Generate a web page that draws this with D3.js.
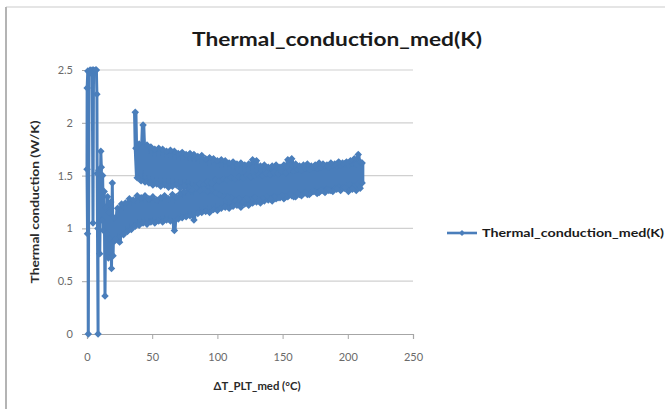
<!DOCTYPE html>
<html>
<head>
<meta charset="utf-8">
<script src="https://cdn.jsdelivr.net/npm/d3@7"></script>
<style>
  body { margin: 0; background: #fff; }
  svg { display: block; font-family: Lato, "Open Sans", sans-serif; }
</style>
</head>
<body>
<div id="chart"></div>
<script>
// values: [ΔT_PLT_med (°C), thermal conduction (W/K)]
const startup = [
  [0.4,0.95],[0.0,1.56],[0.1,2.33],[0.6,2.49],[1.0,0.0],[1.6,2.48],[2.4,2.5],[3.2,2.47],
  [4.0,2.5],[4.6,1.05],[5.0,2.5],[5.8,2.49],[6.6,2.5],[7.2,2.5],[7.6,2.27],[7.8,1.52],
  [8.5,0.0],[8.4,1.0],[9.0,1.55],[9.8,0.76],[10.6,1.73],[11.0,1.58],[11.4,1.08],[12.0,1.5],
  [12.6,0.98],[13.2,1.35],[13.8,0.36],[14.4,1.2],[15.0,0.95],[15.8,1.3],[16.4,0.72],[17.0,1.15],
  [17.6,0.9],[18.2,1.25],[18.8,0.62],[19.4,1.43],[20.0,0.74],[20.6,1.1],[21.2,0.88]
];

const risingBranch = [
  [22.0,0.90],[23.5,1.19],[25.0,0.87],[26.5,1.23],[28.0,0.94],[29.5,1.24],[31.0,0.97],[32.5,1.28],
  [34.0,0.99],[35.5,1.27],[37.0,1.02],[38.5,1.31],[40.0,1.03],[41.5,1.29],[43.0,1.05],[44.5,1.31],
  [46.0,1.04],[47.5,1.28],[49.0,1.06],[50.5,1.30],[52.0,1.05],[53.5,1.27],[55.0,1.07],[56.5,1.29],
  [58.0,1.06],[59.5,1.31],[61.0,1.08],[62.5,1.28],[64.0,1.07],[65.5,1.32],[67.0,0.98],[68.5,1.30],
  [70.0,1.09],[71.5,1.33],[73.0,1.10],[74.5,1.35],[76.0,1.11],[77.5,1.38],[79.0,1.12],[80.5,1.36],
  [82.0,1.08],[83.5,1.40],[85.0,1.14],[86.5,1.42],[88.0,1.15],[89.5,1.41],[91.0,1.16],[92.5,1.44],
  [94.0,1.15],[95.5,1.43],[97.0,1.18],[98.5,1.46],[100.0,1.17],[101.5,1.45],[103.0,1.19],[104.5,1.47],
  [106.0,1.20],[107.5,1.46],[109.0,1.19],[110.5,1.48],[112.0,1.21],[113.5,1.47],[115.0,1.22],[116.5,1.49],
  [118.0,1.20],[119.5,1.48],[121.0,1.23],[122.5,1.50],[124.0,1.22],[125.5,1.49],[127.0,1.24],[128.5,1.50],
  [130.0,1.25],[131.5,1.51],[133.0,1.24],[134.5,1.50],[136.0,1.26],[137.5,1.52],[139.0,1.27],[140.5,1.51],
  [142.0,1.26],[143.5,1.53],[145.0,1.28],[146.5,1.52],[148.0,1.29],[149.5,1.54],[151.0,1.28],[152.5,1.53],
  [154.0,1.30],[155.5,1.55],[157.0,1.31],[158.5,1.54],[160.0,1.30],[161.5,1.56],[163.0,1.32],[164.5,1.55],
  [166.0,1.33],[167.5,1.57],[169.0,1.32],[170.5,1.56],[172.0,1.34],[173.5,1.58],[175.0,1.35],[176.5,1.57],
  [178.0,1.34],[179.5,1.58],[181.0,1.36],[182.5,1.59],[184.0,1.37],[185.5,1.58],[187.0,1.36],[188.5,1.60],
  [190.0,1.38],[191.5,1.59],[193.0,1.39],[194.5,1.60],[196.0,1.38],[197.5,1.61],[199.0,1.40],[200.5,1.60],
  [202.0,1.41],[203.5,1.62],[205.0,1.40],[206.5,1.61],[208.0,1.42],[209.5,1.63],[211.0,1.43]
];

const fallingBranch = [
  [211.0,1.62],[209.5,1.38],[208.0,1.70],[206.5,1.36],[205.0,1.66],[203.5,1.37],[202.0,1.64],[200.5,1.35],
  [199.0,1.63],[197.5,1.38],[196.0,1.62],[194.5,1.36],[193.0,1.63],[191.5,1.37],[190.0,1.61],[188.5,1.35],
  [187.0,1.62],[185.5,1.36],[184.0,1.60],[182.5,1.34],[181.0,1.61],[179.5,1.36],[178.0,1.62],[176.5,1.33],
  [175.0,1.60],[173.5,1.35],[172.0,1.59],[170.5,1.32],[169.0,1.61],[167.5,1.34],[166.0,1.60],[164.5,1.31],
  [163.0,1.59],[161.5,1.33],[160.0,1.61],[158.5,1.30],[157.0,1.66],[155.5,1.32],[154.0,1.65],[152.5,1.30],
  [151.0,1.60],[149.5,1.31],[148.0,1.58],[146.5,1.29],[145.0,1.60],[143.5,1.30],[142.0,1.59],[140.5,1.28],
  [139.0,1.58],[137.5,1.30],[136.0,1.60],[134.5,1.28],[133.0,1.59],[131.5,1.27],[130.0,1.64],[128.5,1.29],
  [127.0,1.65],[125.5,1.27],[124.0,1.61],[122.5,1.28],[121.0,1.60],[119.5,1.26],[118.0,1.62],[116.5,1.28],
  [115.0,1.61],[113.5,1.27],[112.0,1.63],[110.5,1.29],[109.0,1.62],[107.5,1.30],[106.0,1.64],[104.5,1.31],
  [103.0,1.65],[101.5,1.32],[100.0,1.64],[98.5,1.34],[97.0,1.66],[95.5,1.36],[94.0,1.67],[92.5,1.35],
  [91.0,1.66],[89.5,1.37],[88.0,1.69],[86.5,1.36],[85.0,1.68],[83.5,1.38],[82.0,1.70],[80.5,1.37],
  [79.0,1.71],[77.5,1.39],[76.0,1.70],[74.5,1.40],[73.0,1.72],[71.5,1.38],[70.0,1.71],[68.5,1.41],
  [67.0,1.73],[65.5,1.40],[64.0,1.74],[62.5,1.39],[61.0,1.73],[59.5,1.41],[58.0,1.75],[56.5,1.40],
  [55.0,1.76],[53.5,1.42],[52.0,1.75],[50.5,1.41],[49.0,1.77],[47.5,1.43],[46.0,1.79],[44.5,1.44],
  [43.0,1.98],[41.5,1.45],[40.0,1.80],[38.5,1.48],[37.5,1.76],[37.0,2.10]
];

const xTicks = [0, 50, 100, 150, 200, 250];
const yTicks = [0, 0.5, 1, 1.5, 2, 2.5];
const seriesName = "Thermal_conduction_med(K)";

const series = startup.concat(risingBranch, fallingBranch);

const width = 665, height = 409;
const blue = "#4a7ebb";

const svg = d3.select("#chart").append("svg")
    .attr("width", width)
    .attr("height", height);

// chart area frame
svg.append("line").attr("x1", 6).attr("x2", width).attr("y1", 7).attr("y2", 7)
    .attr("stroke", "#dcdcdc").attr("stroke-width", 1.5);
svg.append("line").attr("x1", 6).attr("x2", 6).attr("y1", 7).attr("y2", height)
    .attr("stroke", "#b4b4b4").attr("stroke-width", 2);

const x = d3.scaleLinear().domain([0, 250]).range([87, 413]);
const y = d3.scaleLinear().domain([0, 2.5]).range([334, 70]);

// gridlines
svg.append("g")
    .selectAll("line")
    .data(yTicks.filter(d => d > 0))
    .join("line")
    .attr("x1", x(0)).attr("x2", x(250))
    .attr("y1", d => y(d)).attr("y2", d => y(d))
    .attr("stroke", "#d0d0d0").attr("stroke-width", 1.2);

const xAxis = svg.append("g")
    .attr("transform", "translate(0," + y(0) + ")")
    .call(d3.axisBottom(x).tickValues(xTicks).tickSize(5).tickPadding(14).tickFormat(d3.format("d")));

const yAxis = svg.append("g")
    .attr("transform", "translate(" + x(0) + ",0)")
    .call(d3.axisLeft(y).tickValues(yTicks).tickSize(5).tickPadding(9).tickFormat(d => String(d)));

[xAxis, yAxis].forEach(function (g) {
    g.select(".domain").attr("stroke", "#a6a6a6").attr("stroke-width", 1.2);
    g.selectAll(".tick line").attr("stroke", "#a6a6a6");
    g.selectAll(".tick text")
        .attr("fill", "#6a6a6a")
        .style("font-size", "11px")
        .style("font-family", "Lato, sans-serif");
});

// series: line through every point, diamond markers on top
const line = d3.line()
    .x(d => x(d[0]))
    .y(d => y(d[1]));

// the dense back-and-forth part reads as a solid band in the original
svg.append("path")
    .datum(risingBranch.concat(fallingBranch))
    .attr("fill", "none")
    .attr("stroke", blue)
    .attr("stroke-width", 4.4)
    .attr("stroke-linejoin", "round")
    .attr("d", line);

svg.append("path")
    .datum(series)
    .attr("fill", "none")
    .attr("stroke", blue)
    .attr("stroke-width", 3)
    .attr("stroke-linejoin", "round")
    .attr("d", line);

const diamond = d3.symbol().type(d3.symbolSquare).size(28);

svg.append("g")
    .selectAll("path")
    .data(series)
    .join("path")
    .attr("d", diamond)
    .attr("transform", d => "translate(" + x(d[0]) + "," + y(d[1]) + ") rotate(45)")
    .attr("fill", blue);

// titles
svg.append("text")
    .attr("x", 337)
    .attr("y", 46)
    .attr("text-anchor", "middle")
    .attr("textLength", 290)
    .attr("lengthAdjust", "spacingAndGlyphs")
    .style("font-size", "18px")
    .style("font-weight", "bold")
    .attr("fill", "#1a1a1a")
    .text("Thermal_conduction_med(K)");

svg.append("text")
    .attr("transform", "translate(39,202) rotate(-90)")
    .attr("text-anchor", "middle")
    .attr("textLength", 163)
    .attr("lengthAdjust", "spacingAndGlyphs")
    .style("font-size", "11px")
    .style("font-weight", "bold")
    .attr("fill", "#2a2a2a")
    .text("Thermal conduction (W/K)");

svg.append("text")
    .attr("x", 257)
    .attr("y", 390)
    .attr("text-anchor", "middle")
    .attr("textLength", 87)
    .attr("lengthAdjust", "spacingAndGlyphs")
    .style("font-size", "11px")
    .style("font-weight", "bold")
    .attr("fill", "#2a2a2a")
    .text("ΔT_PLT_med (°C)");

// legend
const legend = svg.append("g").attr("transform", "translate(447,233)");
legend.append("line")
    .attr("x1", 0).attr("x2", 30)
    .attr("stroke", blue).attr("stroke-width", 2.6);
legend.append("path")
    .attr("d", d3.symbol().type(d3.symbolSquare).size(18))
    .attr("transform", "translate(15,0) rotate(45)")
    .attr("fill", blue);
legend.append("text")
    .attr("x", 35)
    .attr("y", 4)
    .attr("textLength", 182)
    .attr("lengthAdjust", "spacingAndGlyphs")
    .style("font-size", "11px")
    .style("font-weight", "bold")
    .attr("fill", "#1a1a1a")
    .text(seriesName);
</script>
</body>
</html>
